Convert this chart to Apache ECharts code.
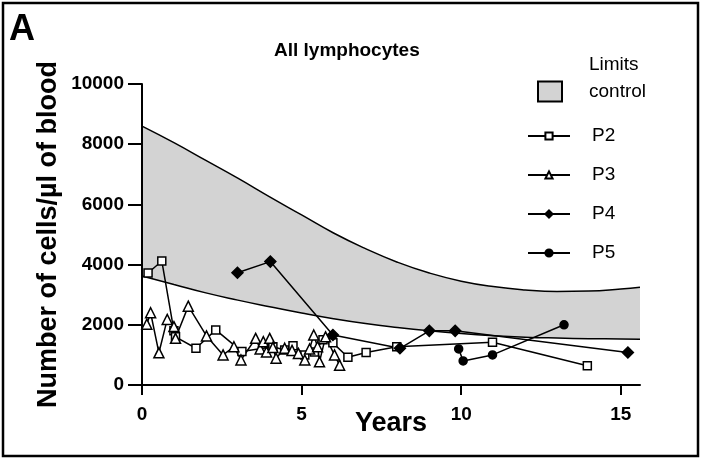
<!DOCTYPE html>
<html>
<head>
<meta charset="utf-8">
<title>All lymphocytes</title>
<script src="https://cdn.jsdelivr.net/npm/echarts@6/dist/echarts.min.js"></script>
<style>
  html, body { margin: 0; padding: 0; background: #fff; }
  #chart { width: 701px; height: 459px; }
</style>
</head>
<body>
<div id="chart"></div>
<script>
// control limits (grey band)
const bandYears = [0, 1, 2, 3, 4, 5, 6, 7, 8, 9, 10, 11, 12, 13, 14, 15, 15.6]
const bandUpper = [8600, 8050, 7460, 6870, 6250, 5650, 5050, 4530, 4080, 3720, 3450, 3270, 3160, 3110, 3120, 3190, 3250]
const bandLower = [3620, 3340, 3060, 2820, 2600, 2390, 2200, 2040, 1910, 1800, 1710, 1640, 1590, 1560, 1540, 1530, 1520]

// patients
const p2Years = [0.19, 0.62, 1.0, 1.05, 1.69, 2.31, 3.13, 4.1, 4.47, 4.73, 5.1, 5.4, 5.67, 5.98, 6.45, 7.02, 7.98, 10.98, 13.95]
const p2Vals = [3720, 4120, 1800, 1600, 1220, 1830, 1110, 1270, 1160, 1300, 1000, 1100, 1500, 1400, 920, 1080, 1270, 1420, 640]

const p3Years = [0.15, 0.27, 0.53, 0.79, 1.0, 1.05, 1.45, 2.02, 2.54, 2.88, 3.1, 3.56, 3.7, 3.8, 3.9, 4.0, 4.1, 4.2, 4.47, 4.7, 4.9, 5.1, 5.25, 5.38, 5.5, 5.56, 5.75, 6.03, 6.19]
const p3Vals = [2020, 2400, 1070, 2180, 1940, 1550, 2620, 1630, 1000, 1270, 830, 1550, 1200, 1440, 1100, 1550, 1250, 890, 1220, 1150, 1050, 830, 1200, 1660, 1270, 770, 1600, 1000, 660]

const p4Years = [2.99, 4.02, 5.98, 8.08, 9.0, 9.81, 15.22]
const p4Vals = [3730, 4100, 1660, 1220, 1800, 1800, 1080]

const p5Years = [9.92, 10.06, 10.98, 13.22]
const p5Vals = [1200, 800, 1000, 2000]

const xTicks = [0, 5, 10, 15]
const yMax = 10000
const yStep = 2000

const font = 'Liberation Sans, Arial, sans-serif'
const zip = (xs, ys) => xs.map((x, i) => [x, ys[i]])

const chart = echarts.init(document.getElementById('chart'))

function patient (name, xs, ys, symbol, size, fill) {
  return {
    name: name,
    type: 'line',
    data: zip(xs, ys),
    symbol: symbol,
    symbolSize: size,
    z: 5,
    lineStyle: { color: '#000', width: 1.5 },
    itemStyle: { color: fill, borderColor: '#000', borderWidth: 1.5 }
  }
}

const option = {
  animation: false,
  backgroundColor: '#fff',
  title: {
    text: 'All lymphocytes',
    left: 269,
    top: 36,
    textStyle: { fontFamily: font, fontSize: 19, fontWeight: 'bold', color: '#000' }
  },
  graphic: [
    {
      type: 'rect',
      shape: { x: 3, y: 3, width: 695, height: 453 },
      style: { fill: 'none', stroke: '#000', lineWidth: 2.5 }
    },
    {
      type: 'text',
      left: 9,
      top: 12,
      style: { text: 'A', font: 'bold 36px Liberation Sans, Arial, sans-serif', fill: '#000' }
    }
  ],
  legend: [
    {
      orient: 'vertical',
      left: 532,
      top: 46,
      itemWidth: 24,
      itemHeight: 20,
      data: [{
        name: 'Limits control',
        icon: 'rect',
        itemStyle: { color: '#d3d3d3', borderColor: '#000', borderWidth: 2 }
      }],
      formatter: () => 'Limits\ncontrol\n',
      textStyle: {
        fontFamily: font, fontSize: 19, color: '#000',
        lineHeight: 27, padding: [0, 0, 0, 22]
      }
    },
    {
      orient: 'vertical',
      left: 522,
      top: 121,
      itemWidth: 42,
      itemHeight: 9,
      itemGap: 19,
      data: ['P2', 'P3', 'P4', 'P5'],
      textStyle: {
        fontFamily: font, fontSize: 19, color: '#000',
        lineHeight: 20, padding: [0, 0, 0, 17]
      }
    }
  ],
  grid: { left: 142, right: 61, top: 84, bottom: 74 },
  xAxis: {
    type: 'value',
    min: 0,
    max: 15.6,
    z: 4,
    name: 'Years',
    nameLocation: 'middle',
    nameGap: 25,
    nameMoveOverlap: false,
    nameTextStyle: { fontFamily: font, fontSize: 27, fontWeight: 'bold', color: '#000' },
    axisLine: { lineStyle: { color: '#000', width: 2 } },
    axisTick: { length: 10, customValues: xTicks, lineStyle: { color: '#000', width: 2 } },
    axisLabel: {
      customValues: xTicks,
      margin: 20,
      fontFamily: font, fontSize: 19, fontWeight: 'bold', color: '#000'
    },
    splitLine: { show: false }
  },
  yAxis: {
    type: 'value',
    min: 0,
    max: yMax,
    interval: yStep,
    z: 4,
    name: 'Number of cells/µl of blood',
    nameLocation: 'middle',
    nameGap: 80,
    nameMoveOverlap: false,
    nameTextStyle: { fontFamily: font, fontSize: 27, fontWeight: 'bold', color: '#000' },
    axisLine: { show: true, lineStyle: { color: '#000', width: 2 } },
    axisTick: { show: true, length: 14, lineStyle: { color: '#000', width: 2 } },
    axisLabel: {
      margin: 18,
      formatter: v => String(v),
      fontFamily: font, fontSize: 19, fontWeight: 'bold', color: '#000'
    },
    splitLine: { show: false }
  },
  series: [
    {
      // upper limit, filled grey down to the axis
      name: 'Limits control',
      type: 'line',
      smooth: true,
      symbol: 'none',
      data: zip(bandYears, bandUpper),
      lineStyle: { color: '#000', width: 1.5 },
      itemStyle: { color: '#d3d3d3' },
      areaStyle: { color: '#d3d3d3', opacity: 1 },
      z: 1
    },
    {
      // lower limit, white fill clears the band below it
      name: 'lower',
      type: 'line',
      smooth: true,
      symbol: 'none',
      data: zip(bandYears, bandLower),
      lineStyle: { color: '#000', width: 1.5 },
      areaStyle: { color: '#fff', opacity: 1 },
      z: 1
    },
    patient('P2', p2Years, p2Vals, 'rect', 8, '#fff'),
    patient('P3', p3Years, p3Vals, 'triangle', 10, '#fff'),
    patient('P4', p4Years, p4Vals, 'diamond', 11, '#000'),
    patient('P5', p5Years, p5Vals, 'circle', 8, '#000')
  ]
}

chart.setOption(option)
</script>
</body>
</html>
